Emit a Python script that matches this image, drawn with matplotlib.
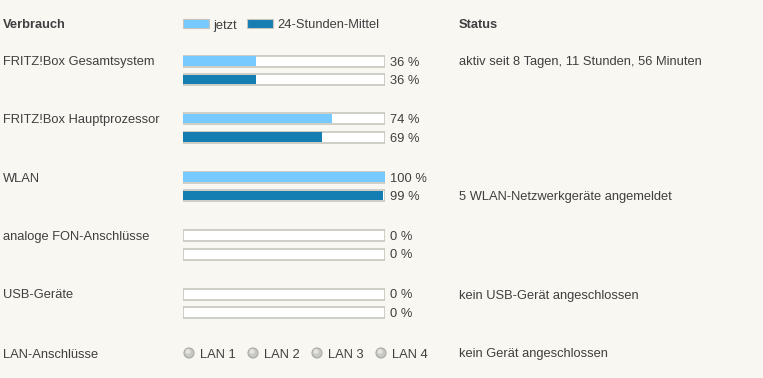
import matplotlib.pyplot as plt
from matplotlib.patches import Circle

plt.rcParams['font.family'] = ['Liberation Sans', 'DejaVu Sans']

W, H = 763, 378
BG = '#f8f7f2'
TXT = '#3f3f3f'
LIGHT = '#76caff'
DARK = '#147db2'
BORDER = '#c6c6be'

categories = ['FRITZ!Box Gesamtsystem', 'FRITZ!Box Hauptprozessor', 'WLAN',
              'analoge FON-Anschlüsse', 'USB-Geräte']
jetzt = [36, 74, 100, 0, 0]
mittel = [36, 69, 99, 0, 0]
status = {0: ('aktiv seit 8 Tagen, 11 Stunden, 56 Minuten', 'top'),
          2: ('5 WLAN-Netzwerkgeräte angemeldet', 'bottom'),
          4: ('kein USB-Gerät angeschlossen', 'top')}
lan_ports = ['LAN 1', 'LAN 2', 'LAN 3', 'LAN 4']
lan_status = 'kein Gerät angeschlossen'

row_y = [61, 118.5, 177, 235.5, 294]
gap = 18.5
lan_y = 353

fig = plt.figure(figsize=(W / 100, H / 100), dpi=100, facecolor=BG)
ax = fig.add_axes([0, 0, 1, 1])
ax.set_xlim(0, W)
ax.set_ylim(H, 0)
ax.axis('off')
ax.set_facecolor(BG)

fs = 9.3
dy = 1.5  # text baseline nudge


def label(x, y, s, **kw):
    ax.text(x, y + dy, s, fontsize=fs, color=TXT, va='center', **kw)


# headers
label(3, 24, 'Verbrauch', fontweight='bold')
label(459, 24, 'Status', fontweight='bold')

# legend
ax.add_patch(plt.Rectangle((183, 19), 26, 9, facecolor=LIGHT, edgecolor=BORDER, lw=0.8))
label(213, 24, 'jetzt')
ax.add_patch(plt.Rectangle((247, 19), 26, 9, facecolor=DARK, edgecolor=BORDER, lw=0.8))
label(277, 24, '24-Stunden-Mittel')

# bars in their own axes, x = percent
bx = fig.add_axes([183 / W, 0, 202 / W, 1])
bx.set_xlim(0, 100)
bx.set_ylim(H, 0)
bx.axis('off')
bx.patch.set_alpha(0)

bh = 11
for i, name in enumerate(categories):
    y1 = row_y[i]
    y2 = y1 + gap
    label(3, y1, name)
    for y, v, c in ((y1, jetzt[i], LIGHT), (y2, mittel[i], DARK)):
        bx.barh(y, 100, height=bh, color='white', edgecolor=BORDER, linewidth=1.2)
        if v > 0:
            bx.barh(y, v, height=bh - 1.6, left=0, color=c, linewidth=0)
        label(390, y, f'{v} %')
    if i in status:
        s, pos = status[i]
        label(459, y1 if pos == 'top' else y2, s)

# LAN row
label(3, lan_y, 'LAN-Anschlüsse')
for k, port in enumerate(lan_ports):
    cx = 189 + 64 * k
    ax.add_patch(Circle((cx, lan_y), 5, facecolor='#c8c8c4', edgecolor='#a9a9a5', lw=0.8))
    ax.add_patch(Circle((cx - 1, lan_y - 1.5), 2.5, facecolor='#e4e4e0', edgecolor='none'))
    label(cx + 11, lan_y, port)
label(459, lan_y, lan_status)

fig.savefig('out.png', dpi=100, facecolor=BG)
